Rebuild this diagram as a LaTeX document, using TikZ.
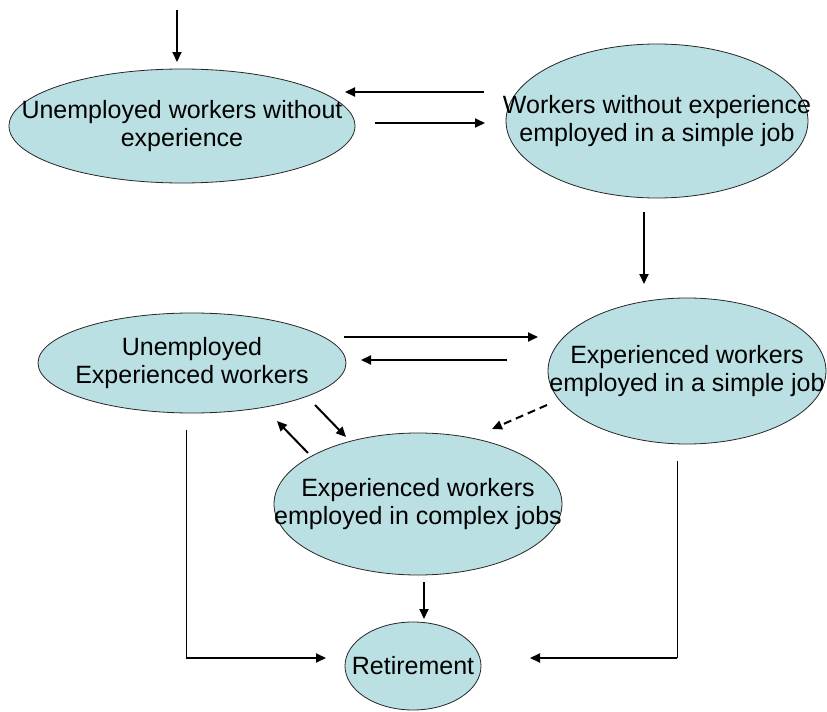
\documentclass[tikz,border=0pt]{standalone}
\usepackage{fontspec}
\setmainfont{Liberation Sans}
\usetikzlibrary{shapes.geometric,arrows.meta}
\definecolor{statefill}{RGB}{187,224,227}
\begin{document}
\begin{tikzpicture}[
  x=0.5pt, y=-0.5pt,
  every node/.style={font=\fontsize{12.5}{13.6}\selectfont, align=center},
  % fixed ellipse size, text may touch the rim:
  state/.style={draw=black!85, fill=statefill, ellipse, line width=0.4pt,
    inner xsep=-70pt, inner ysep=-25pt},
  flow/.style={line width=1pt, -{Triangle[length=5pt,width=4.5pt]}},
  feed/.style={line width=0.5pt}
]
\useasboundingbox (0,0) rectangle (827,712);
\node[state, minimum width=173pt, minimum height=57pt] (unemp) at (182,126)
  {Unemployed workers without\\experience};
\node[state, minimum width=151pt, minimum height=77pt] (simplenew) at (657,121)
  {Workers without experience\\employed in a simple job};
\node[state, minimum width=154pt, minimum height=50pt] (unempexp) at (192,363)
  {Unemployed\\Experienced workers};
\node[state, minimum width=139pt, minimum height=73pt] (simpleexp) at (687,371)
  {Experienced workers\\employed in a simple job};
\node[state, minimum width=144pt, minimum height=71pt] (complex) at (418,504)
  {Experienced workers\\employed in complex jobs};
\node[state, minimum width=68pt, minimum height=44pt] (retire) at (413,666)
  {Retirement};

\coordinate (entry) at (177,10);   \coordinate (entry-end) at (177,62);
\coordinate (back-a) at (484,92);  \coordinate (back-b) at (345,92);
\coordinate (hire-a) at (375,123); \coordinate (hire-b) at (485,123);
\coordinate (learn-a) at (644,212); \coordinate (learn-b) at (644,284);
\coordinate (rehire-a) at (344,337); \coordinate (rehire-b) at (538,337);
\coordinate (fire-a) at (507,360); \coordinate (fire-b) at (361,360);
\coordinate (up-a) at (315,405);   \coordinate (up-b) at (346,437);
\coordinate (down-a) at (308,453); \coordinate (down-b) at (277,421);
\coordinate (promo-a) at (547,405); \coordinate (promo-b) at (492,429);
\coordinate (old-a) at (424,582);  \coordinate (old-b) at (424,619);
\coordinate (lft-top) at (186,430); \coordinate (lft-bot) at (186,658);
\coordinate (lft-end) at (326,658);
\coordinate (rgt-top) at (677,461); \coordinate (rgt-bot) at (677,658);
\coordinate (rgt-end) at (530,658);

\draw[flow] (entry) -- (entry-end);
\draw[flow] (back-a) -- (back-b);
\draw[flow] (hire-a) -- (hire-b);
\draw[flow] (learn-a) -- (learn-b);
\draw[flow] (rehire-a) -- (rehire-b);
\draw[flow] (fire-a) -- (fire-b);
\draw[flow] (up-a) -- (up-b);
\draw[flow] (down-a) -- (down-b);
\draw[flow, dashed, dash pattern=on 4pt off 2.5pt] (promo-a) -- (promo-b);
\draw[flow] (old-a) -- (old-b);
\draw[feed] (lft-top) -- (lft-bot);
\draw[flow] (lft-bot) -- (lft-end);
\draw[feed] (rgt-top) -- (rgt-bot);
\draw[flow] (rgt-bot) -- (rgt-end);
\end{tikzpicture}
\end{document}
